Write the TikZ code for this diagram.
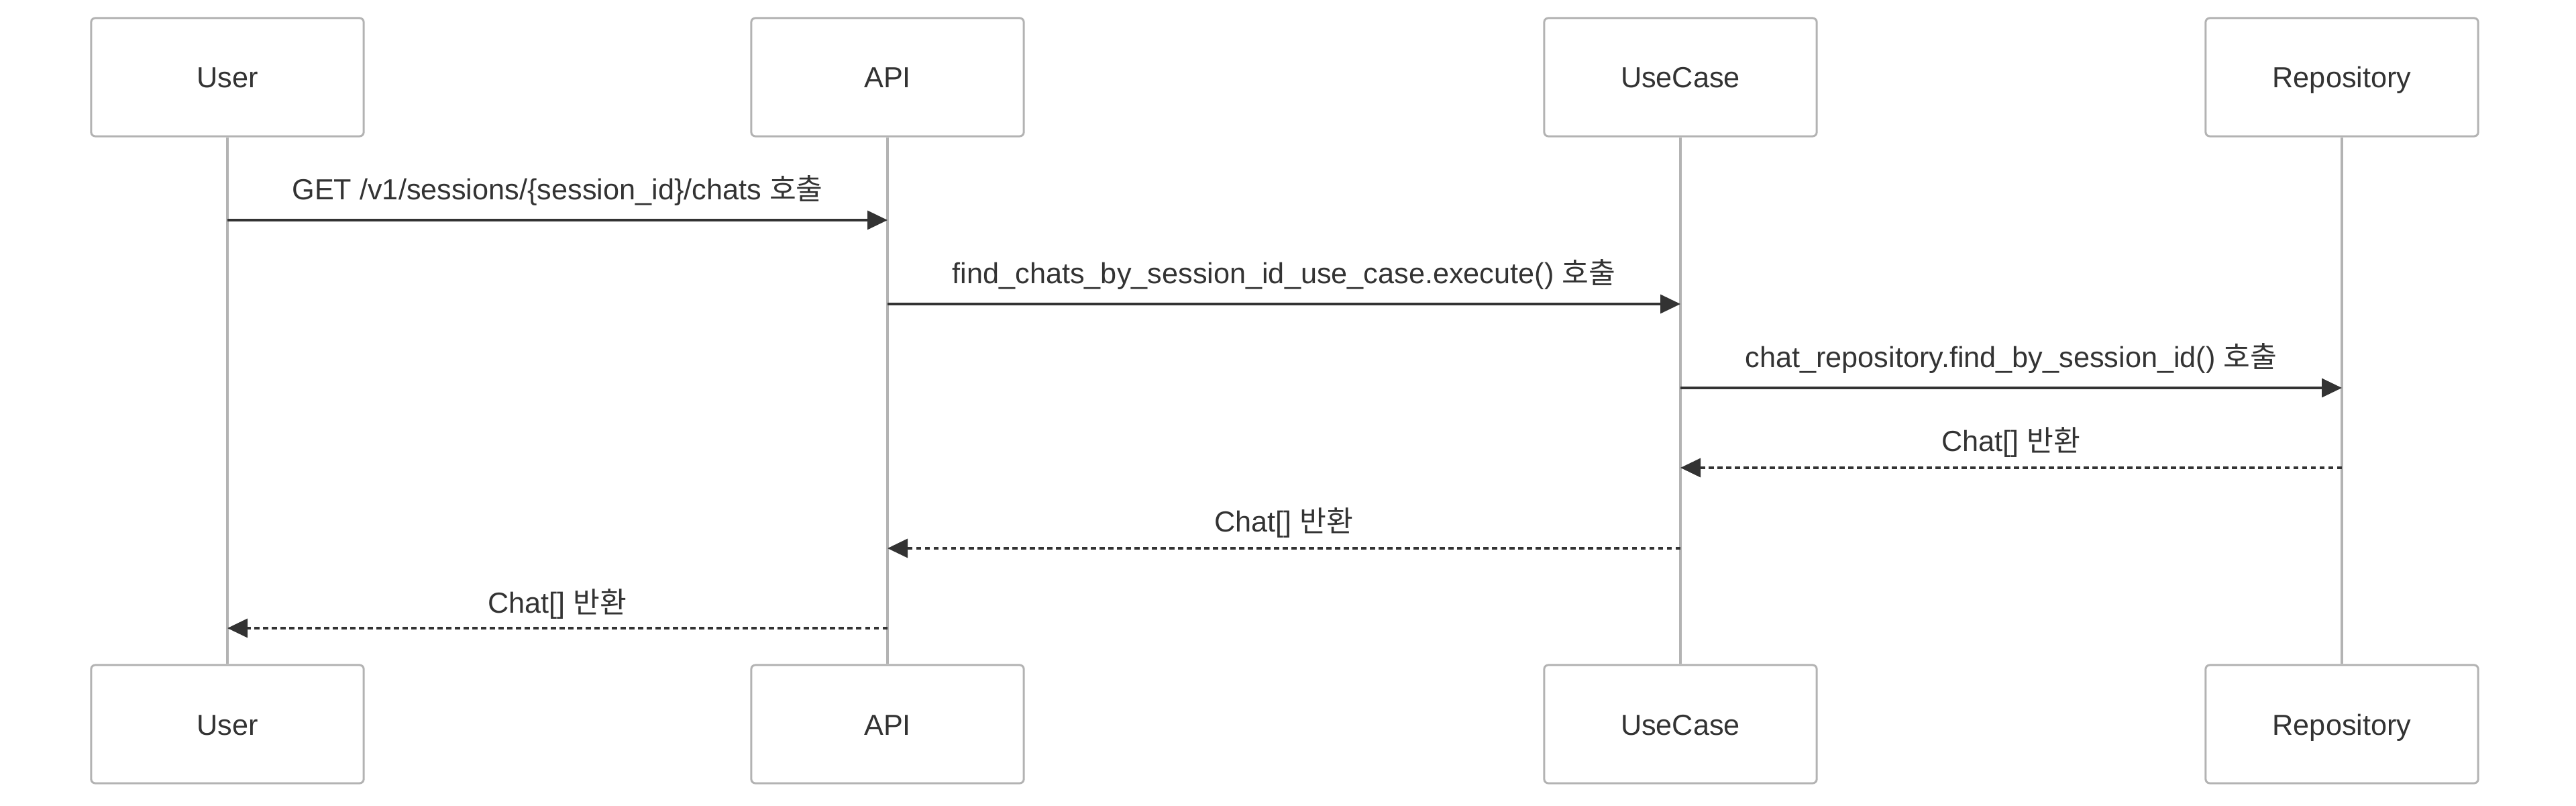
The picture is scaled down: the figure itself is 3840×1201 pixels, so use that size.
\documentclass[tikz,border=0pt]{standalone}
\usepackage{fontspec}
\setmainfont{Liberation Sans}
\newfontfamily\kr{Noto Sans CJK KR}
\usetikzlibrary{arrows.meta}
\definecolor{ink}{HTML}{333333}
\definecolor{lgray}{HTML}{B3B3B3}
\tikzset{
  actor/.style={draw=lgray, line width=0.03cm, fill=white, rounded corners=0.06cm,
    minimum width=4.06cm, minimum height=1.76cm, inner sep=0pt, text=ink,
    text height=0.42cm, text depth=0.1cm,
    font=\fontsize{12.3pt}{15pt}\selectfont},
  life/.style={draw=lgray, line width=0.035cm},
  msg/.style={draw=ink, line width=0.033cm, -{Triangle[length=0.3cm,width=0.28cm]}},
  ret/.style={msg, dash pattern=on 0.075cm off 0.055cm},
  lbl/.style={text=ink, anchor=base, inner sep=0pt, font=\fontsize{12.3pt}{15pt}\selectfont}
}
\begin{document}
\begin{tikzpicture}[x=0.01cm,y=-0.01cm]
\useasboundingbox (0,0) rectangle (3840,1201);
% top actors
\node[actor] (u1) at (339,115) {User};
\node[actor] (a1) at (1323,115) {API};
\node[actor] (c1) at (2505,115) {UseCase};
\node[actor] (r1) at (3491,115) {Repository};
% bottom actors
\node[actor] (u2) at (339,1079) {User};
\node[actor] (a2) at (1323,1079) {API};
\node[actor] (c2) at (2505,1079) {UseCase};
\node[actor] (r2) at (3491,1079) {Repository};
% lifelines
\draw[life] (u1.south) -- (u2.north);
\draw[life] (a1.south) -- (a2.north);
\draw[life] (c1.south) -- (c2.north);
\draw[life] (r1.south) -- (r2.north);
% message points
\coordinate (m1s) at (u1.south |- 0,328); \coordinate (m1e) at (a1.south |- 0,328);
\coordinate (m2s) at (a1.south |- 0,453); \coordinate (m2e) at (c1.south |- 0,453);
\coordinate (m3s) at (c1.south |- 0,578); \coordinate (m3e) at (r1.south |- 0,578);
\coordinate (m4s) at (r1.south |- 0,697); \coordinate (m4e) at (c1.south |- 0,697);
\coordinate (m5s) at (c1.south |- 0,817); \coordinate (m5e) at (a1.south |- 0,817);
\coordinate (m6s) at (a1.south |- 0,936); \coordinate (m6e) at (u1.south |- 0,936);
% messages
\draw[msg] (m1s) -- (m1e);
\draw[msg] (m2s) -- (m2e);
\draw[msg] (m3s) -- (m3e);
\draw[ret] (m4s) -- (m4e);
\draw[ret] (m5s) -- (m5e);
\draw[ret] (m6s) -- (m6e);
% labels
\node[lbl] (l1) at (831,298) {GET /v1/sessions/\{session\_id\}/chats {\kr 호출}};
\node[lbl] (l2) at (1914,423) {find\_chats\_by\_session\_id\_use\_case.execute() {\kr 호출}};
\node[lbl] (l3) at (2998,548) {chat\_repository.find\_by\_session\_id() {\kr 호출}};
\node[lbl] (l4) at (2998,673) {Chat[] {\kr 반환}};
\node[lbl] (l5) at (1914,793) {Chat[] {\kr 반환}};
\node[lbl] (l6) at (831,913) {Chat[] {\kr 반환}};
\end{tikzpicture}
\end{document}
